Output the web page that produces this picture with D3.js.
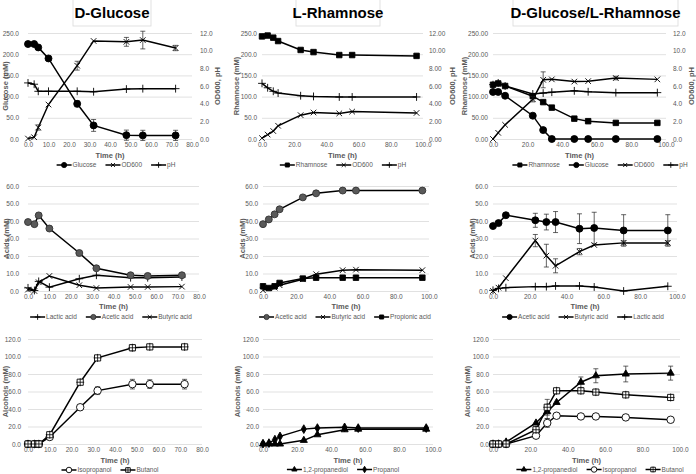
<!DOCTYPE html>
<html>
<head>
<meta charset="utf-8">
<script src="https://cdn.jsdelivr.net/npm/d3@7"></script>
<style>
  body { margin: 0; background: #fff; }
  text { font-family: "Liberation Sans", Arial, sans-serif; }
</style>
</head>
<body>
<svg id="fig" width="696" height="474"></svg>
<script>
// ---- D-Glucose fermentation
var glcTime = [0, 3, 5, 10, 24, 32, 48, 56, 72];
var glcGlucose = [224, 224, 216, 190, 83, 32, 9, 8.5, 8.5];
var glcGlucoseErr = [0, 0, 0, 0, 7, 14, 12, 12, 12];
var glcOD = [0.05, 0.2, 1.3, 3.9, 8.3, 11.1, 11.0, 11.2, 10.3];
var glcODErr = [0, 0, 0.3, 0, 0.5, 0, 0.5, 1.0, 0.3];
var glcPH = [6.35, 6.2, 5.4, 5.4, 5.4, 5.35, 5.65, 5.7, 5.7];
var glcLactic = [1.8, 0.3, 5.5, 2.2, 7.0, 9.0, 7.6, 7.6, 8.0];
var glcAcetic = [39.4, 38.2, 43.2, 35.7, 21.7, 13.0, 9.0, 8.6, 9.0];
var glcButyric = [0.8, 0, 5.0, 8.6, 3.3, 1.7, 2.3, 2.3, 2.5];
var glcIsopropanol = [0, 0, 0, 8, 42, 61, 68.4, 68.4, 68.4];
var glcIsopropanolErr = [0, 0, 0, 0, 2.5, 4.5, 5.5, 5, 5.5];
var glcButanol = [0, 0, 0, 10.6, 70.6, 98.4, 110, 111, 111];
var glcButanolErr = [0, 0, 0, 0, 0, 0, 3.5, 2.5, 0];

// ---- L-Rhamnose fermentation
var rhaTime = [0, 3.5, 7, 10, 24, 32, 48, 56, 96];
var rhaRhamnose = [242, 244, 239, 231, 210, 205, 198, 198, 196];
var rhaOD = [0.1, 0.5, 0.9, 1.5, 2.7, 3.0, 2.9, 3.1, 2.95];
var rhaPH = [6.3, 5.8, 5.4, 5.2, 4.9, 4.82, 4.76, 4.76, 4.76];
var rhaAcetic = [38.2, 40.9, 43.8, 46.7, 53.5, 55.8, 57.4, 57.4, 57.4];
var rhaButyric = [0.4, 1.7, 1.9, 3.3, 6.7, 9.6, 11.9, 12.2, 11.9];
var rhaPropionic = [2.7, 1.7, 2.7, 4.6, 7.1, 7.6, 7.6, 7.6, 7.6];
var rhaPropanediol = [0, 0, 0, 0, 4.2, 10.6, 16.3, 17, 17];
var rhaPropanol = [0.4, 1, 5, 8.7, 17, 18.2, 19, 18.2, 18.2];

// ---- D-Glucose/L-Rhamnose fermentation
var mixTime = [0, 3, 7, 23, 29, 34, 47, 55, 71, 95];
var mixRhamnose = [128, 131, 125, 101, 87, 74, 48, 42, 38, 38];
var mixGlucose = [111, 111, 102, 55, 21, 0, 0, 0, 0, 0];
var mixOD = [0, 0.7, 1.6, 4.5, 6.7, 6.75, 6.5, 6.55, 6.9, 6.75];
var mixODErr = [0, 0, 0, 0.3, 0.9, 0, 0, 0, 0.2, 0];
var mixPH = [6.15, 6.35, 6.0, 5.1, 5.2, 5.3, 5.45, 5.35, 5.25, 5.25];
var mixAcetic = [37.1, 38.8, 43.3, 40.4, 39.4, 39.4, 35.6, 36.0, 34.6, 34.6];
var mixAceticErr = [0, 0, 0, 4, 4.5, 6, 8.5, 9, 9, 9];
var mixButyric = [0, 1.9, 7.3, 28.8, 20.2, 14.4, 22.5, 26.3, 27.5, 27.5];
var mixButyricErr = [0, 0, 0, 3.5, 6.5, 4, 1.8, 0, 1.2, 1.2];
var mixLactic = [0.4, 1.5, 1.9, 2.5, 2.5, 2.9, 2.9, 2.3, 0, 2.7];
var mixPropanediol = [0, 0, 2.3, 24, 37, 47.5, 70.6, 78, 80, 81];
var mixPropanediolErr = [0, 0, 0, 0, 8, 0, 6, 8, 9, 8];
var mixIsopropanol = [0, 0, 0, 9.5, 24, 32.3, 31.5, 31.5, 30.4, 27.7];
var mixIsopropanolErr = [0, 0, 0, 0, 5, 0, 0, 0, 0, 0];
var mixButanol = [0, 0, 0, 16.3, 42, 60.8, 60.8, 59.3, 56.2, 53.2];
var mixButanolErr = [0, 0, 0, 0, 9, 0, 0, 0, 0, 0];

var panelTitles = ["D-Glucose", "L-Rhamnose", "D-Glucose/L-Rhamnose"];

var svg = d3.select("#fig");
var gray = "#595959";

var markerStyle = {
  circle:  {type: d3.symbolCircle, size: 38, fill: "#000", stroke: "#000"},
  gcircle: {type: d3.symbolCircle, size: 38, fill: "#595959", stroke: "#333"},
  ocircle: {type: d3.symbolCircle, size: 44, fill: "#fff", stroke: "#000"},
  square:  {type: d3.symbolSquare, size: 30, fill: "#000", stroke: "#000"},
  osquare: {type: d3.symbolSquare, size: 38, fill: "#fff", stroke: "#000", plus: true},
  times:   {type: d3.symbolTimes, size: 22, fill: "none", stroke: "#000"},
  plus:    {type: d3.symbolPlus, size: 22, fill: "none", stroke: "#000"},
  tri:     {type: d3.symbolTriangle, size: 22, fill: "#000", stroke: "#000"},
  diamond: {type: d3.symbolDiamond, size: 22, fill: "#000", stroke: "#000"}
};

function drawMarker(g, name, cx, cy, k) {
  var m = markerStyle[name];
  k = k || 1;
  g.append("path")
    .attr("d", d3.symbol().type(m.type).size(m.size * k)())
    .attr("transform", "translate(" + cx + "," + cy + ")")
    .attr("fill", m.fill).attr("stroke", m.stroke).attr("stroke-width", 0.9);
  if (m.plus) {
    g.append("path")
      .attr("d", d3.symbol().type(d3.symbolPlus).size(m.size * k * 0.6)())
      .attr("transform", "translate(" + cx + "," + cy + ")")
      .attr("fill", "none").attr("stroke", "#000").attr("stroke-width", 0.8);
  }
}

function styleAxis(a) {
  a.select(".domain").remove();
  a.attr("font-family", null).attr("font-size", null);
  a.selectAll("text").attr("font-size", 6.5).attr("fill", gray);
}

function drawPanel(p) {
  var g = svg.append("g");
  var x = d3.scaleLinear().domain([0, p.xMax]).range([p.left, p.right]);
  var y = d3.scaleLinear().domain([0, p.yMax]).range([p.bottom, p.top]);
  var y2 = p.rMax ? d3.scaleLinear().domain([0, p.rMax]).range([p.bottom, p.top]) : null;

  // left axis + gridlines
  g.append("g").attr("transform", "translate(" + p.left + ",0)")
    .call(d3.axisLeft(y).tickValues(d3.range(0, p.yMax + 1e-6, p.yStep))
      .tickFormat(d3.format(p.yFmt)).tickSize(-(p.right - p.left)).tickPadding(p.labGap))
    .call(styleAxis)
    .call(function (a) { a.selectAll("line").attr("stroke", "#d9d9d9").attr("stroke-width", 0.8); });

  // bottom axis
  g.append("g").attr("transform", "translate(0," + p.bottom + ")")
    .call(d3.axisBottom(x).tickValues(d3.range(0, p.xMax + 1e-6, p.xStep))
      .tickFormat(d3.format(".1f")).tickSize(0).tickPadding(3))
    .call(styleAxis);

  // right axis
  if (y2) {
    g.append("g").attr("transform", "translate(" + p.right + ",0)")
      .call(d3.axisRight(y2).tickValues(d3.range(0, p.rMax + 1e-6, p.rStep))
        .tickFormat(d3.format(p.rFmt)).tickSize(0).tickPadding(p.rGap))
      .call(styleAxis);
    g.append("text")
      .attr("transform", "translate(" + p.rTitleX + "," + ((p.top + p.bottom) / 2) + ") rotate(-90)")
      .attr("text-anchor", "middle").attr("dy", "0.35em")
      .attr("font-size", 7.5).attr("font-weight", "bold").attr("fill", gray)
      .text(p.rTitle);
  }

  // axis titles
  g.append("text")
    .attr("transform", "translate(" + p.yTitleX + "," + ((p.top + p.bottom) / 2) + ") rotate(-90)")
    .attr("text-anchor", "middle").attr("dy", "0.35em")
    .attr("font-size", 7.5).attr("font-weight", "bold").attr("fill", gray)
    .text(p.yTitle);
  g.append("text")
    .attr("x", (p.left + p.right) / 2).attr("y", p.timeY).attr("dy", "0.35em")
    .attr("text-anchor", "middle").attr("font-size", 7.5).attr("font-weight", "bold").attr("fill", gray)
    .text("Time (h)");

  // series
  p.series.forEach(function (s) {
    var ys = s.right ? y2 : y;
    var pts = d3.zip(s.time, s.values, s.err || s.time.map(function () { return 0; }));
    var line = d3.line().x(function (d) { return x(d[0]); }).y(function (d) { return ys(d[1]); });
    g.append("path").datum(pts).attr("d", line)
      .attr("fill", "none").attr("stroke", "#000").attr("stroke-width", 1.5);
    pts.forEach(function (d) {
      if (d[2] > 0) {
        var cx = x(d[0]);
        var eb = g.append("g").attr("stroke", "#222").attr("stroke-width", 0.7);
        eb.append("line").attr("x1", cx).attr("x2", cx).attr("y1", ys(d[1] - d[2])).attr("y2", ys(d[1] + d[2]));
        eb.append("line").attr("x1", cx - 2.5).attr("x2", cx + 2.5).attr("y1", ys(d[1] - d[2])).attr("y2", ys(d[1] - d[2]));
        eb.append("line").attr("x1", cx - 2.5).attr("x2", cx + 2.5).attr("y1", ys(d[1] + d[2])).attr("y2", ys(d[1] + d[2]));
      }
    });
    pts.forEach(function (d) { drawMarker(g, s.marker, x(d[0]), ys(d[1])); });
  });

  // legend
  var lg = g.append("g");
  var cur = 0;
  p.series.forEach(function (s) {
    var it = lg.append("g").attr("transform", "translate(" + cur + "," + p.legendY + ")");
    it.append("line").attr("x1", 0).attr("x2", 15).attr("stroke", "#000").attr("stroke-width", 1.5);
    drawMarker(it, s.marker, 7.5, 0, 0.55);
    var t = it.append("text").attr("x", 16).attr("dy", "0.35em")
      .attr("font-size", 6.5).attr("fill", gray).text(s.name);
    cur += 16 + t.node().getComputedTextLength() + 9;
  });
  cur -= 9;
  lg.attr("transform", "translate(" + (p.legendCx - cur / 2) + ",0)");
}

// titles
var titleBoxes = [[73, 151], [296, 380], [513, 678]];
panelTitles.forEach(function (t, i) {
  var b = titleBoxes[i];
  svg.append("rect").attr("x", b[0]).attr("y", -1).attr("width", b[1] - b[0]).attr("height", 27)
    .attr("fill", "#fff").attr("stroke", "#d9d9d9").attr("stroke-width", 0.8);
  svg.append("text").attr("x", (b[0] + b[1]) / 2).attr("y", 18).attr("text-anchor", "middle")
    .attr("font-size", 15).attr("font-weight", "bold").attr("fill", "#000").text(t);
});

// row 1
drawPanel({left: 28, right: 192, top: 33, bottom: 139, xMax: 80, xStep: 10,
  yMax: 250, yStep: 50, yFmt: ".1f", labGap: 9, rMax: 12, rStep: 2, rFmt: ".1f", rGap: 8,
  yTitle: "Glucose (mM)", yTitleX: 5, rTitle: "OD600, pH", rTitleX: 217,
  timeY: 155, legendY: 165, legendCx: 116,
  series: [
    {name: "Glucose", time: glcTime, values: glcGlucose, err: glcGlucoseErr, marker: "circle"},
    {name: "OD600", time: glcTime, values: glcOD, err: glcODErr, marker: "times", right: true},
    {name: "pH", time: glcTime, values: glcPH, marker: "plus", right: true}
  ]});
drawPanel({left: 262, right: 423, top: 33, bottom: 139, xMax: 100, xStep: 20,
  yMax: 250, yStep: 50, yFmt: ".1f", labGap: 5, rMax: 12, rStep: 2, rFmt: ".2f", rGap: 6,
  yTitle: "Rhamnose (mM)", yTitleX: 236, rTitle: "OD600, pH", rTitleX: 452,
  timeY: 155, legendY: 165, legendCx: 343,
  series: [
    {name: "Rhamnose", time: rhaTime, values: rhaRhamnose, marker: "square"},
    {name: "OD600", time: rhaTime, values: rhaOD, marker: "times", right: true},
    {name: "pH", time: rhaTime, values: rhaPH, marker: "plus", right: true}
  ]});
drawPanel({left: 493, right: 666, top: 33, bottom: 139, xMax: 100, xStep: 20,
  yMax: 250, yStep: 50, yFmt: ".2f", labGap: 5, rMax: 12, rStep: 2, rFmt: ".1f", rGap: 7,
  yTitle: "Rhamnose (mM)", yTitleX: 464, rTitle: "OD600, pH", rTitleX: 691,
  timeY: 155, legendY: 165, legendCx: 600,
  series: [
    {name: "Rhamnose", time: mixTime, values: mixRhamnose, marker: "square"},
    {name: "Glucose", time: mixTime, values: mixGlucose, marker: "circle"},
    {name: "OD600", time: mixTime, values: mixOD, err: mixODErr, marker: "times", right: true},
    {name: "pH", time: mixTime, values: mixPH, marker: "plus", right: true}
  ]});

// row 2
drawPanel({left: 28, right: 199, top: 186, bottom: 291, xMax: 80, xStep: 10,
  yMax: 60, yStep: 10, yFmt: ".1f", labGap: 9,
  yTitle: "Acids (mM)", yTitleX: 6, timeY: 306, legendY: 317, legendCx: 111,
  series: [
    {name: "Lactic acid", time: glcTime, values: glcLactic, marker: "plus"},
    {name: "Acetic acid", time: glcTime, values: glcAcetic, marker: "gcircle"},
    {name: "Butyric acid", time: glcTime, values: glcButyric, marker: "times"}
  ]});
drawPanel({left: 263, right: 429, top: 186, bottom: 291, xMax: 100, xStep: 20,
  yMax: 60, yStep: 10, yFmt: ".1f", labGap: 5,
  yTitle: "Acids (mM)", yTitleX: 242, timeY: 306, legendY: 317, legendCx: 345,
  series: [
    {name: "Acetic acid", time: rhaTime, values: rhaAcetic, marker: "gcircle"},
    {name: "Butyric acid", time: rhaTime, values: rhaButyric, marker: "times"},
    {name: "Propionic acid", time: rhaTime, values: rhaPropionic, marker: "square"}
  ]});
drawPanel({left: 493, right: 677, top: 186, bottom: 291, xMax: 100, xStep: 20,
  yMax: 60, yStep: 10, yFmt: ".1f", labGap: 5,
  yTitle: "Acids (mM)", yTitleX: 472, timeY: 306, legendY: 317, legendCx: 583,
  series: [
    {name: "Acetic acid", time: mixTime, values: mixAcetic, err: mixAceticErr, marker: "circle"},
    {name: "Butyric acid", time: mixTime, values: mixButyric, err: mixButyricErr, marker: "times"},
    {name: "Lactic acid", time: mixTime, values: mixLactic, marker: "plus"}
  ]});

// row 3
drawPanel({left: 28, right: 202, top: 339, bottom: 444, xMax: 80, xStep: 10,
  yMax: 120, yStep: 20, yFmt: ".1f", labGap: 7,
  yTitle: "Alcohols (mM)", yTitleX: 5, timeY: 460, legendY: 470, legendCx: 110,
  series: [
    {name: "Isopropanol", time: glcTime, values: glcIsopropanol, err: glcIsopropanolErr, marker: "ocircle"},
    {name: "Butanol", time: glcTime, values: glcButanol, err: glcButanolErr, marker: "osquare"}
  ]});
drawPanel({left: 263, right: 433, top: 339, bottom: 444, xMax: 100, xStep: 20,
  yMax: 120, yStep: 20, yFmt: ".1f", labGap: 4,
  yTitle: "Alcohols (mM)", yTitleX: 237, timeY: 460, legendY: 469.5, legendCx: 343,
  series: [
    {name: "1,2-propanediol", time: rhaTime, values: rhaPropanediol, marker: "tri"},
    {name: "Propanol", time: rhaTime, values: rhaPropanol, marker: "diamond"}
  ]});
drawPanel({left: 493, right: 680, top: 339, bottom: 444, xMax: 100, xStep: 20,
  yMax: 120, yStep: 20, yFmt: ".1f", labGap: 4,
  yTitle: "Alcohols (mM)", yTitleX: 467, timeY: 460, legendY: 469.5, legendCx: 600,
  series: [
    {name: "1,2-propanediol", time: mixTime, values: mixPropanediol, err: mixPropanediolErr, marker: "tri"},
    {name: "Isopropanol", time: mixTime, values: mixIsopropanol, err: mixIsopropanolErr, marker: "ocircle"},
    {name: "Butanol", time: mixTime, values: mixButanol, err: mixButanolErr, marker: "osquare"}
  ]});
</script>
</body>
</html>
